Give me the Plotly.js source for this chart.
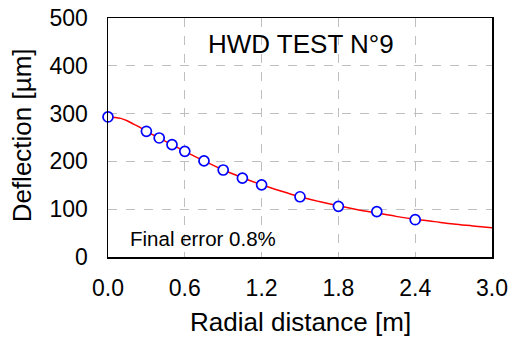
<!DOCTYPE html>
<html>
<head>
<meta charset="utf-8">
<script src="https://cdn.plot.ly/plotly-3.0.0.min.js"></script>
<style>html,body{margin:0;padding:0;background:#fff;}#chart{width:515px;height:342px;}</style>
</head>
<body>
<div id="chart"></div>
<script>
// Measured deflections (markers)
var measuredR = [0, 0.3, 0.4, 0.5, 0.6, 0.75, 0.9, 1.05, 1.2, 1.5, 1.8, 2.1, 2.4];
var measuredD = [293, 263, 249, 235, 221, 201, 182, 165, 151, 126, 106, 95, 78];

// Fitted (back-calculated) curve
var fitR = [0, 0.05, 0.1, 0.15, 0.2, 0.25, 0.3, 0.4, 0.5, 0.6, 0.75, 0.9, 1.05, 1.2, 1.35, 1.5, 1.65, 1.8, 1.95, 2.1, 2.25, 2.4, 2.55, 2.7, 2.85, 3.0];
var fitD = [293, 292, 290, 285, 278, 271, 263, 249, 235, 221, 201, 182, 166, 151, 138, 126, 116, 107, 99, 92, 85, 79, 74, 69, 65, 61];

var xTicks = [0, 0.6, 1.2, 1.8, 2.4, 3.0];
var xTickText = ['0.0', '0.6', '1.2', '1.8', '2.4', '3.0'];
var yTicks = [0, 100, 200, 300, 400, 500];

var chartTitle = 'HWD TEST N°9';
var errorText = 'Final error 0.8%';
var xTitle = 'Radial distance [m]';
var yTitle = 'Deflection [µm]';

var font = 'Liberation Sans, Arial, sans-serif';

var traces = [
  {x: fitR, y: fitD, type: 'scatter', mode: 'lines', line: {color: '#ff0000', width: 1.5, shape: 'spline'}, hoverinfo: 'skip'},
  {x: measuredR, y: measuredD, type: 'scatter', mode: 'markers', cliponaxis: false,
   marker: {symbol: 'circle', size: 10, color: '#ffffff', line: {color: '#0000ff', width: 1.7}}}
];

var layout = {
  width: 515, height: 342,
  margin: {l: 108, r: 23, t: 18, b: 84.5, pad: 0},
  paper_bgcolor: '#ffffff', plot_bgcolor: '#ffffff',
  showlegend: false,
  font: {family: font, color: '#000000', size: 23},
  xaxis: {
    range: [0, 3.0], tickvals: xTicks, ticktext: xTickText,
    ticks: '', ticklabelstandoff: 10,
    showgrid: true, gridcolor: '#bfbfbf', griddash: 'dash', gridwidth: 1,
    showline: true, linecolor: '#000000', linewidth: 1.5, mirror: true,
    zeroline: false, tickfont: {size: 23, family: font, color: '#000'},
    automargin: false
  },
  yaxis: {
    range: [0, 500], tickvals: yTicks,
    ticks: '', ticklabelstandoff: 14,
    showgrid: true, gridcolor: '#bfbfbf', griddash: 'dash', gridwidth: 1,
    showline: true, linecolor: '#000000', linewidth: 1.5, mirror: true,
    zeroline: false, tickfont: {size: 23, family: font, color: '#000'},
    automargin: false
  },
  annotations: [
    {text: chartTitle, xref: 'paper', yref: 'paper', x: 0.503, y: 0.891, xanchor: 'center', yanchor: 'middle', showarrow: false, font: {size: 26, family: font, color: '#000'}},
    {text: errorText, xref: 'paper', yref: 'paper', x: 0.052, y: 0.077, xanchor: 'left', yanchor: 'middle', showarrow: false, font: {size: 20.5, family: font, color: '#000'}},
    {text: xTitle, xref: 'paper', yref: 'paper', x: 0.5, y: 0, yshift: -64.5, xanchor: 'center', yanchor: 'middle', showarrow: false, font: {size: 26, family: font, color: '#000'}},
    {text: yTitle, xref: 'paper', yref: 'paper', x: 0, xshift: -86, y: 0.509, xanchor: 'center', yanchor: 'middle', textangle: -90, showarrow: false, font: {size: 26, family: font, color: '#000'}}
  ]
};

Plotly.newPlot('chart', traces, layout, {staticPlot: true, displayModeBar: false});
</script>
</body>
</html>
